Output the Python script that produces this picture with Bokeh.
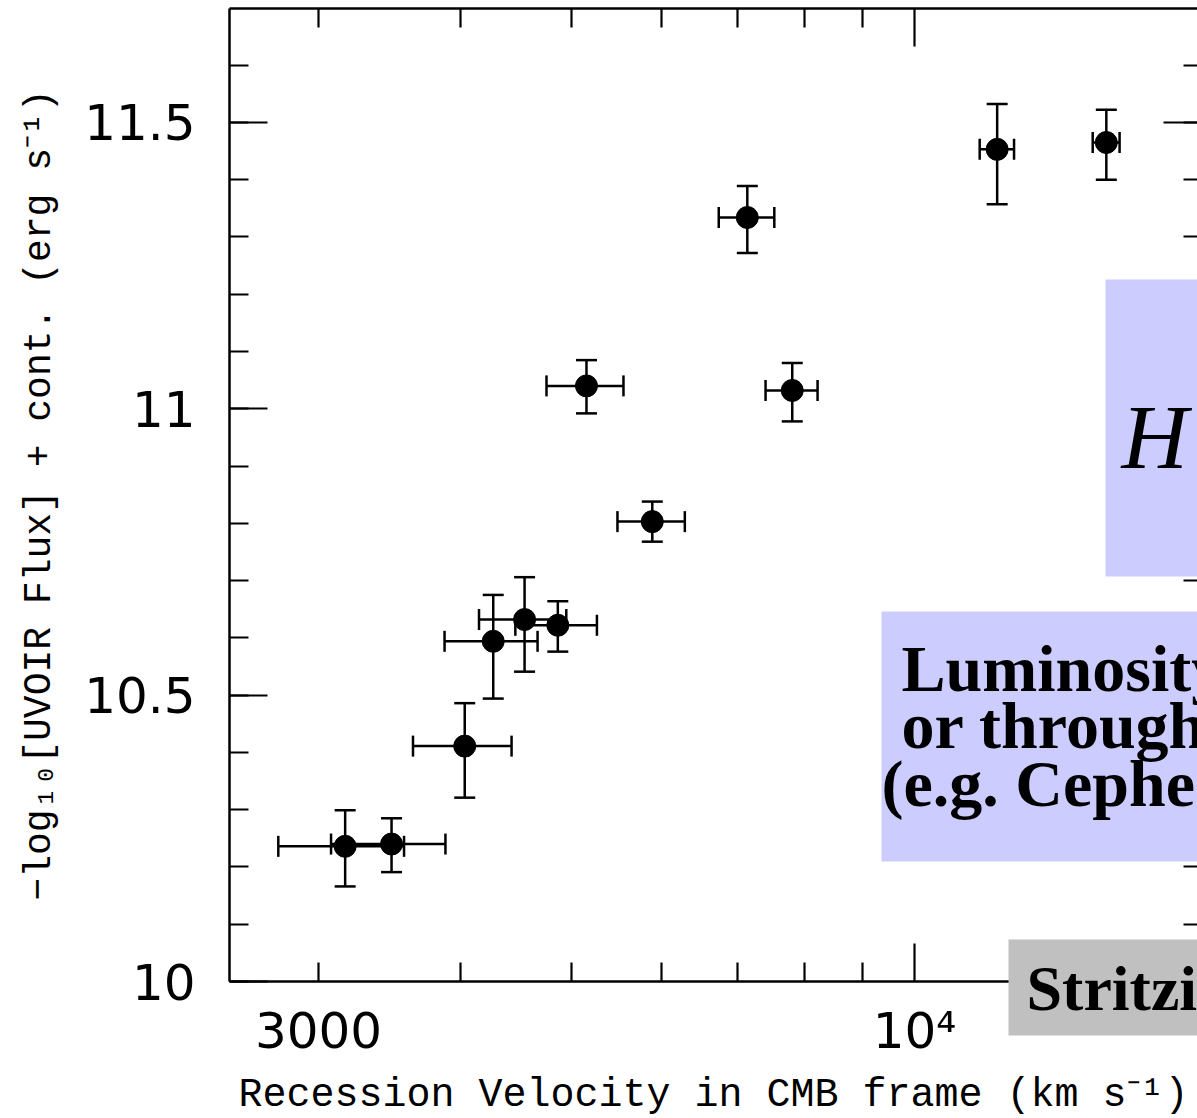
import numpy as np
from bokeh.plotting import figure
from bokeh.models import (ColumnDataSource, Whisker, TeeHead, FixedTicker, LogAxis,
                          LinearAxis, Range1d, BoxAnnotation, Label, Grid)
from bokeh.embed import file_html
from bokeh.resources import INLINE

# ---------------- data ----------------
velocity = [3166, 3477, 4031, 4270, 4549, 4865, 5155, 5888, 7134, 7812, 11818, 14734]
velocity_err = [400, 400, 400, 400, 400, 400, 400, 400, 400, 410, 410, 400]
flux = [10.236, 10.240, 10.411, 10.594, 10.632, 10.622, 11.040, 10.803, 11.334, 11.032, 11.453, 11.465]
flux_err_plus = [0.063, 0.045, 0.075, 0.081, 0.074, 0.042, 0.045, 0.035, 0.055, 0.048, 0.079, 0.057]
flux_err_minus = [0.070, 0.049, 0.090, 0.100, 0.091, 0.046, 0.048, 0.035, 0.062, 0.054, 0.096, 0.065]

y_ticks = [10, 10.5, 11, 11.5]
y_tick_labels = ["10", "10.5", "11", "11.5"]
y_minor_ticks = [10.0, 10.1, 10.2, 10.3, 10.4, 10.5, 10.6, 10.7, 10.8, 10.9,
                 11.0, 11.1, 11.2, 11.3, 11.4, 11.5, 11.6]
x_major_ticks = [10000]
x_minor_ticks = [3000, 4000, 5000, 6000, 7000, 8000, 9000]
x_label_ticks = [3000, 10000]
x_tick_labels = ["3000", "10⁴"]

x_title = "Recession Velocity in CMB frame (km s⁻¹)"
y_title = "−log₁₀[UVOIR Flux] + cont. (erg s⁻¹)"

# ---------------- geometry (canvas pixels) ----------------
W, H = 1197, 1118
AX_L, AX_T, AX_B, AX_R = 229, 8, 981, 1197
PX_PER_DEC = 1139.8
PX_PER_UNIT = 572.7


def X(px):
    return 10 ** (np.log10(3000) + (px - 318) / PX_PER_DEC)


def Y(py):
    return 10 + (AX_B - py) / PX_PER_UNIT


src = ColumnDataSource(dict(
    v=velocity, f=flux,
    v_lo=[v - e for v, e in zip(velocity, velocity_err)],
    v_hi=[v + e for v, e in zip(velocity, velocity_err)],
    f_lo=[f - e for f, e in zip(flux, flux_err_minus)],
    f_hi=[f + e for f, e in zip(flux, flux_err_plus)],
))

p = figure(width=W, height=H, x_axis_type="log",
           x_range=Range1d(X(0), X(W)), y_range=Range1d(Y(H), Y(0)),
           output_backend="svg", toolbar_location=None,
           min_border_left=0, min_border_right=0, min_border_top=0, min_border_bottom=0,
           outline_line_color=None, background_fill_color="white", border_fill_color="white")
p.center = [r for r in p.center if not isinstance(r, Grid)]

LW = 2.5
TW = 2.2
HIDDEN = dict(major_label_text_font_size="1px", major_label_text_alpha=0.0,
              major_label_standoff=0)
XB = (X(AX_L), X(AX_R))
YB = (10.0, Y(AX_T))

# ---- bottom axis: tick marks only
xa = p.xaxis[0]
xa.ticker = FixedTicker(ticks=x_major_ticks, minor_ticks=x_minor_ticks)
xa.fixed_location = 10.0
xa.bounds = XB
xa.major_tick_in = 38
xa.major_tick_out = 0
xa.minor_tick_in = 19
xa.minor_tick_out = 0
xa.axis_line_width = LW
xa.major_tick_line_width = TW
xa.minor_tick_line_width = TW
xa.axis_line_color = "black"
xa.major_tick_line_color = "black"
xa.minor_tick_line_color = "black"
for k, v in HIDDEN.items():
    setattr(xa, k, v)

# ---- bottom axis: labels
xl = LogAxis(ticker=FixedTicker(ticks=x_label_ticks), fixed_location=10.0, bounds=XB,
             axis_line_color=None, major_tick_line_color=None, minor_tick_line_color=None,
             major_tick_in=0, major_tick_out=0, minor_tick_in=0, minor_tick_out=0,
             major_label_overrides=dict(zip(x_label_ticks, x_tick_labels)),
             major_label_text_font="DejaVu Sans", major_label_text_font_size="50px",
             major_label_text_color="black", major_label_standoff=20,
             axis_label=x_title, axis_label_text_font="Liberation Mono",
             axis_label_text_font_size="40px", axis_label_text_font_style="normal",
             axis_label_text_color="black", axis_label_standoff=10)
p.add_layout(xl, "below")

# ---- top axis: ticks only
xt = LogAxis(ticker=FixedTicker(ticks=x_major_ticks, minor_ticks=x_minor_ticks),
             fixed_location=Y(AX_T), bounds=XB,
             major_tick_in=38, major_tick_out=0, minor_tick_in=19, minor_tick_out=0,
             axis_line_width=LW, major_tick_line_width=TW, minor_tick_line_width=TW,
             axis_line_color="black", major_tick_line_color="black", minor_tick_line_color="black",
             **HIDDEN)
p.add_layout(xt, "above")

# ---- left axis
ya = p.yaxis[0]
ya.ticker = FixedTicker(ticks=y_ticks, minor_ticks=y_minor_ticks)
ya.fixed_location = X(AX_L)
ya.bounds = YB
ya.major_label_overrides = dict(zip(y_ticks, y_tick_labels))
ya.major_tick_in = 38
ya.major_tick_out = 0
ya.minor_tick_in = 19
ya.minor_tick_out = 0
ya.axis_line_width = LW
ya.major_tick_line_width = TW
ya.minor_tick_line_width = TW
ya.axis_line_color = "black"
ya.major_tick_line_color = "black"
ya.minor_tick_line_color = "black"
ya.major_label_text_font = "DejaVu Sans"
ya.major_label_text_font_size = "50px"
ya.major_label_text_color = "black"
ya.major_label_standoff = 34
ya.axis_label = y_title
ya.axis_label_text_font = "Liberation Mono"
ya.axis_label_text_font_size = "38px"
ya.axis_label_text_font_style = "normal"
ya.axis_label_text_color = "black"
ya.axis_label_standoff = 20

# ---- right axis: ticks only (its frame line lies just outside the picture)
yr = LinearAxis(ticker=FixedTicker(ticks=y_ticks, minor_ticks=y_minor_ticks),
                fixed_location=X(AX_R), bounds=YB,
                major_tick_in=34, major_tick_out=0, minor_tick_in=14, minor_tick_out=0,
                axis_line_color=None, major_tick_line_width=TW, minor_tick_line_width=TW,
                major_tick_line_color="black", minor_tick_line_color="black",
                **HIDDEN)
p.add_layout(yr, "right")

# ---- error bars and points
p.add_layout(Whisker(base="f", lower="v_lo", upper="v_hi", dimension="width", source=src,
                     line_color="black", line_width=LW,
                     upper_head=TeeHead(size=21, line_width=LW, line_color="black"),
                     lower_head=TeeHead(size=21, line_width=LW, line_color="black")))
p.add_layout(Whisker(base="v", lower="f_lo", upper="f_hi", dimension="height", source=src,
                     line_color="black", line_width=LW,
                     upper_head=TeeHead(size=21, line_width=LW, line_color="black"),
                     lower_head=TeeHead(size=21, line_width=LW, line_color="black")))
p.scatter("v", "f", source=src, size=22, fill_color="black", line_color="black")

# ---- overlaid slide boxes
p.add_layout(BoxAnnotation(left=X(1105), top=Y(279), bottom=Y(576),
                           fill_color="#CCCCFF", fill_alpha=1.0, line_color=None))
p.add_layout(BoxAnnotation(left=X(881), top=Y(611), bottom=Y(861),
                           fill_color="#CCCCFF", fill_alpha=1.0, line_color=None))
p.add_layout(BoxAnnotation(left=X(1008), top=Y(939), bottom=Y(1035),
                           fill_color="#C0C0C0", fill_alpha=1.0, line_color=None))

p.add_layout(Label(x=X(1121), y=Y(436), text="H", text_font="Liberation Serif",
                   text_font_style="italic", text_font_size="92px", text_color="black",
                   text_baseline="middle", text_align="left"))
for px, py, t in [(901, 668, "Luminosity"), (901, 725, "or through"), (881, 783, "(e.g. Cephe")]:
    p.add_layout(Label(x=X(px), y=Y(py), text=t, text_font="Liberation Serif",
                       text_font_style="bold", text_font_size="66px", text_color="black",
                       text_baseline="middle", text_align="left"))
p.add_layout(Label(x=X(1026), y=Y(988), text="Stritzi", text_font="Liberation Serif",
                   text_font_style="bold", text_font_size="64px", text_color="black",
                   text_baseline="middle", text_align="left"))

open("out.html", "w").write(file_html(p, INLINE))
